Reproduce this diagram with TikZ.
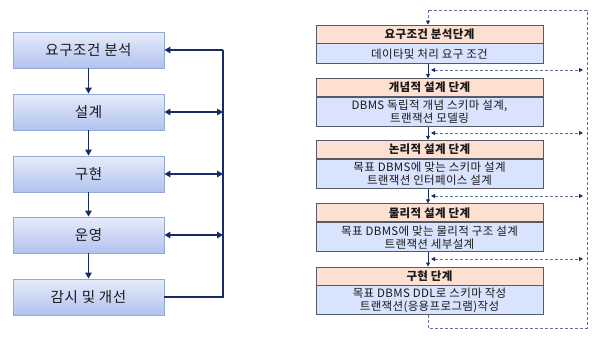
\documentclass[tikz,border=0pt]{standalone}
\usepackage{fontspec}
\setmainfont{Noto Sans CJK KR}
\usetikzlibrary{arrows.meta}
\definecolor{navy}{HTML}{1A2A66}
\definecolor{lbtop}{HTML}{E6ECFB}
\definecolor{lbbot}{HTML}{B1C2EE}
\definecolor{lbdraw}{HTML}{93A9D8}
\definecolor{hdrfill}{HTML}{FDE0D1}
\definecolor{bodyfill}{HTML}{D8E3FD}
\definecolor{rdraw}{HTML}{555A66}
\definecolor{dashcol}{HTML}{5E719C}
\tikzset{
  lbox/.style={draw=lbdraw, line width=0.9pt, top color=lbtop, bottom color=lbbot,
    minimum width=151pt, minimum height=36pt, inner sep=0pt,
    font=\fontsize{14.5}{16}\selectfont\addfontfeature{LetterSpace=4}, text=black!90},
  hdr/.style={draw=rdraw, line width=0.9pt, fill=hdrfill, minimum width=227pt, inner sep=0pt,
    minimum height=18pt, font=\bfseries\fontsize{11.5}{12}\selectfont\addfontfeature{LetterSpace=3}, text=black!90},
  bdy/.style={draw=rdraw, line width=0.9pt, fill=bodyfill, minimum width=227pt, inner sep=0pt,
    align=center, font=\fontsize{11.5}{13}\selectfont\addfontfeature{LetterSpace=3}, text=black!90},
  larr/.style={navy, line width=1.8pt, -{Triangle[length=6pt,width=6.5pt]}},
  ldarr/.style={navy, line width=1.8pt, {Triangle[length=6pt,width=6.5pt]}-{Triangle[length=6pt,width=6.5pt]}},
  lline/.style={navy, line width=1.8pt},
  rarr/.style={navy, line width=0.8pt, -{Triangle[length=4pt,width=4pt]}},
  dline/.style={dashcol, line width=0.9pt, dash pattern=on 3pt off 2pt},
  darr/.style={dline, {Triangle[length=4pt,width=4pt,color=navy]}-{Triangle[length=4pt,width=4pt,color=navy]}},
  darr1/.style={dline, -{Triangle[length=4pt,width=4pt,color=navy]}},
}
\begin{document}
\begin{tikzpicture}[x=1pt,y=-1pt]
\useasboundingbox (0,0) rectangle (602,338);
% left
\node[lbox] (a1) at (88.5,50) {요구조건 분석};
\node[lbox] (a2) at (88.5,112) {설계};
\node[lbox] (a3) at (88.5,174) {구현};
\node[lbox] (a4) at (88.5,235) {운영};
\node[lbox] (a5) at (88.5,297) {감시 및 개선};
\foreach \i/\j in {a1/a2,a2/a3,a3/a4,a4/a5}{\draw[larr] (\i.south) -- (\j.north);}
\coordinate (v1) at (223,50);
\coordinate (v2) at (223,112);
\coordinate (v3) at (223,174);
\coordinate (v4) at (223,235);
\coordinate (v5) at (223,297);
\draw[lline] (a5.east) -- (v5) -- (v1);
\draw[larr] (v1) -- (a1.east);
\draw[ldarr] (a2.east) -- (v2);
\draw[ldarr] (a3.east) -- (v3);
\draw[ldarr] (a4.east) -- (v4);
% right
\node[hdr] (h1) at (429.5,34) {요구조건 분석단계};
\node[bdy, minimum height=20pt, anchor=north] (b1) at (h1.south) {데이타및 처리 요구 조건};
\node[hdr] (h2) at (429.5,87.5) {개념적 설계 단계};
\node[bdy, minimum height=29pt, anchor=north] (b2) at (h2.south) {DBMS 독립적 개념 스키마 설계,\\트랜잭션 모델링};
\node[hdr] (h3) at (429.5,149.2) {논리적 설계 단계};
\node[bdy, minimum height=29pt, anchor=north] (b3) at (h3.south) {목표 DBMS에 맞는 스키마 설계\\트랜잭션 인터페이스 설계};
\node[hdr] (h4) at (429.5,212.8) {물리적 설계 단계};
\node[bdy, minimum height=29pt, anchor=north] (b4) at (h4.south) {목표 DBMS에 맞는 물리적 구조 설계\\트랜잭션 세부설계};
\node[hdr] (h5) at (429.5,276) {구현 단계};
\node[bdy, minimum height=28.5pt, anchor=north] (b5) at (h5.south) {목표 DBMS DDL로 스키마 작성\\트랜잭션(응용프로그램)작성};
\draw[rarr] ([xshift=-1.5pt]b1.south) -- ([xshift=-1.5pt]h2.north);
\draw[rarr] ([xshift=-1.5pt]b2.south) -- ([xshift=-1.5pt]h3.north);
\draw[rarr] ([xshift=-1.5pt]b3.south) -- ([xshift=-1.5pt]h4.north);
\draw[rarr] ([xshift=-1.5pt]b4.south) -- ([xshift=-1.5pt]h5.north);
\coordinate (p1) at (428,328);
\coordinate (p2) at (587,328);
\coordinate (p3) at (587,10);
\coordinate (p4) at (428,10);
\draw[dline] ([xshift=-1.5pt]b5.south) -- (p1) -- (p2) -- (p3) -- (p4);
\draw[darr1] (p4) -- ([xshift=-1.5pt]h1.north);
\foreach \y/\n in {70/1,133/2,196/3,259/4}{
  \coordinate (dl\n) at (431,\y);
  \coordinate (dr\n) at (583,\y);
  \draw[darr] (dl\n) -- (dr\n);
}
\end{tikzpicture}
\end{document}
